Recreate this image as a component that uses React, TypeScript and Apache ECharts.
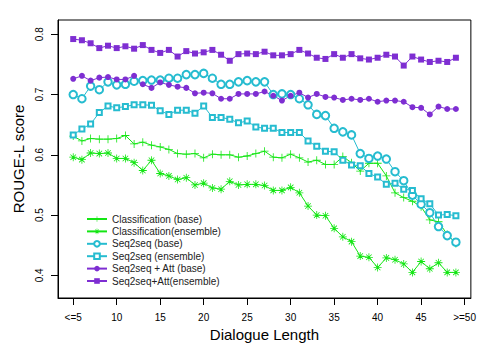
import React, { useEffect, useRef } from "react";
import * as echarts from "echarts";

const lengths = [5, 6, 7, 8, 9, 10, 11, 12, 13, 14, 15, 16, 17, 18, 19, 20, 21, 22, 23, 24, 25, 26, 27, 28, 29, 30, 31, 32, 33, 34, 35, 36, 37, 38, 39, 40, 41, 42, 43, 44, 45, 46, 47, 48, 49];

const clsBase = [0.631, 0.623, 0.627, 0.626, 0.626, 0.627, 0.632, 0.618, 0.621, 0.616, 0.613, 0.609, 0.602, 0.601, 0.602, 0.595, 0.601, 0.6, 0.6, 0.596, 0.598, 0.602, 0.606, 0.596, 0.595, 0.601, 0.595, 0.588, 0.591, 0.584, 0.584, 0.597, 0.587, 0.573, 0.586, 0.586, 0.565, 0.537, 0.529, 0.523, 0.514, 0.492, 0.489, 0.468, 0.453];
const clsEns = [0.596, 0.592, 0.603, 0.602, 0.603, 0.594, 0.594, 0.587, 0.574, 0.591, 0.569, 0.565, 0.559, 0.562, 0.55, 0.553, 0.545, 0.543, 0.556, 0.55, 0.551, 0.551, 0.549, 0.541, 0.541, 0.546, 0.537, 0.515, 0.5, 0.499, 0.478, 0.464, 0.456, 0.432, 0.43, 0.413, 0.429, 0.426, 0.419, 0.405, 0.423, 0.411, 0.421, 0.405, 0.405];
const s2sBase = [0.7, 0.693, 0.714, 0.708, 0.721, 0.716, 0.717, 0.722, 0.723, 0.724, 0.724, 0.727, 0.727, 0.733, 0.733, 0.735, 0.727, 0.717, 0.717, 0.721, 0.723, 0.721, 0.721, 0.7, 0.701, 0.7, 0.693, 0.683, 0.667, 0.665, 0.644, 0.638, 0.633, 0.602, 0.594, 0.598, 0.593, 0.572, 0.557, 0.533, 0.518, 0.504, 0.481, 0.466, 0.455];
const s2sEns = [0.633, 0.643, 0.651, 0.67, 0.681, 0.678, 0.68, 0.683, 0.683, 0.682, 0.673, 0.667, 0.674, 0.674, 0.669, 0.681, 0.662, 0.662, 0.659, 0.653, 0.656, 0.646, 0.644, 0.644, 0.637, 0.637, 0.637, 0.623, 0.614, 0.606, 0.605, 0.591, 0.583, 0.582, 0.569, 0.563, 0.551, 0.553, 0.543, 0.541, 0.527, 0.519, 0.5, 0.501, 0.499];
const attBase = [0.726, 0.731, 0.723, 0.728, 0.729, 0.725, 0.725, 0.731, 0.717, 0.711, 0.72, 0.716, 0.713, 0.711, 0.702, 0.703, 0.702, 0.693, 0.693, 0.701, 0.701, 0.701, 0.705, 0.698, 0.69, 0.698, 0.703, 0.695, 0.701, 0.696, 0.695, 0.691, 0.693, 0.691, 0.693, 0.688, 0.69, 0.69, 0.688, 0.679, 0.678, 0.667, 0.68, 0.676, 0.676];
const attEns = [0.792, 0.79, 0.785, 0.777, 0.781, 0.777, 0.78, 0.776, 0.782, 0.774, 0.769, 0.774, 0.763, 0.772, 0.768, 0.77, 0.774, 0.766, 0.756, 0.767, 0.768, 0.767, 0.771, 0.765, 0.765, 0.767, 0.774, 0.768, 0.761, 0.759, 0.767, 0.761, 0.767, 0.76, 0.758, 0.761, 0.766, 0.763, 0.748, 0.763, 0.758, 0.754, 0.756, 0.754, 0.761];

const xTicks = [5, 10, 15, 20, 25, 30, 35, 40, 45, 50];
const yTicks = [0.4, 0.5, 0.6, 0.7, 0.8];
const seriesNames = [
  "Classification (base)",
  "Classification(ensemble)",
  "Seq2seq (base)",
  "Seq2seq (ensemble)",
  "Seq2seq + Att (base)",
  "Seq2seq+Att(ensemble)",
];

const GREEN = "#14E614";
const CYAN = "#26BCD0";
const PURPLE = "#7E2ED2";

const PLUS = "path://M4.5,0H5.5V4.5H10V5.5H5.5V10H4.5V5.5H0V4.5H4.5Z";
const STAR =
  "path://M4.5,0H5.5V4.5H10V5.5H5.5V10H4.5V5.5H0V4.5H4.5Z M1.2,1.9L1.9,1.2L8.8,8.1L8.1,8.8Z M8.1,1.2L8.8,1.9L1.9,8.8L1.2,8.1Z";

const FONT = "'Liberation Sans', Arial, Helvetica, sans-serif";

export default function App() {
  const ref = useRef<HTMLDivElement>(null);
  useEffect(() => {
    if (!ref.current) return;
    const chart = echarts.init(ref.current, null, { renderer: "svg" });
    const pair = (arr: number[]) => lengths.map((x, i) => [x, arr[i]]);
    const mk = (
      name: string,
      arr: number[],
      color: string,
      symbol: string,
      symbolSize: number,
      borderWidth: number
    ) => ({
      name,
      type: "line",
      data: pair(arr),
      symbol,
      symbolSize,
      showAllSymbol: true,
      lineStyle: { color, width: 1 },
      itemStyle: { color, borderColor: color, borderWidth },
      emphasis: { disabled: true },
    });
    chart.setOption({
      animation: false,
      textStyle: { fontFamily: FONT },
      grid: {
        left: 58,
        right: 5,
        top: 20,
        bottom: 44,
        show: true,
        borderColor: "#000",
        borderWidth: 1,
        backgroundColor: "transparent",
      },
      legend: {
        orient: "vertical",
        left: 86,
        top: 214,
        padding: 0,
        itemWidth: 20,
        itemHeight: 7,
        itemGap: 2.4,
        textStyle: { fontSize: 10, color: "#222", fontFamily: FONT },
        data: seriesNames,
      },
      xAxis: {
        type: "value",
        min: 3.25,
        max: 50.72,
        name: "Dialogue Length",
        nameLocation: "middle",
        nameGap: 29,
        nameTextStyle: { fontSize: 15, color: "#000", fontFamily: FONT },
        axisLine: { show: true, onZero: false, lineStyle: { color: "#000", width: 1 } },
        axisTick: { show: true, length: 7, customValues: xTicks, lineStyle: { color: "#000" } },
        axisLabel: {
          customValues: xTicks,
          margin: 14,
          fontSize: 10,
          color: "#000",
          fontFamily: FONT,
          formatter: (v: number) => (v === 5 ? "<=5" : v === 50 ? ">=50" : String(v)),
        },
        splitLine: { show: false },
      },
      yAxis: {
        type: "value",
        min: 0.3625,
        max: 0.8236,
        name: "ROUGE-L score",
        nameLocation: "middle",
        nameGap: 24,
        nameTextStyle: { fontSize: 15, color: "#000", fontFamily: FONT },
        axisLine: { show: true, onZero: false, lineStyle: { color: "#000", width: 1 } },
        axisTick: { show: true, length: 7, customValues: yTicks, lineStyle: { color: "#000" } },
        axisLabel: {
          customValues: yTicks,
          rotate: 90,
          margin: 14,
          fontSize: 10,
          color: "#000",
          fontFamily: FONT,
          formatter: (v: number) => v.toFixed(1),
        },
        splitLine: { show: false },
      },
      series: [
        mk(seriesNames[0], clsBase, GREEN, PLUS, 8, 0),
        mk(seriesNames[1], clsEns, GREEN, STAR, 8, 0),
        mk(seriesNames[2], s2sBase, CYAN, "emptyCircle", 7.5, 1),
        mk(seriesNames[3], s2sEns, CYAN, "emptyRect", 5, 1),
        mk(seriesNames[4], attBase, PURPLE, "circle", 6, 0),
        mk(seriesNames[5], attEns, PURPLE, "rect", 6, 0),
      ],
    });
    return () => chart.dispose();
  }, []);
  return <div ref={ref} style={{ width: 479, height: 347, position: "absolute", left: 0, top: 0 }} />;
}
